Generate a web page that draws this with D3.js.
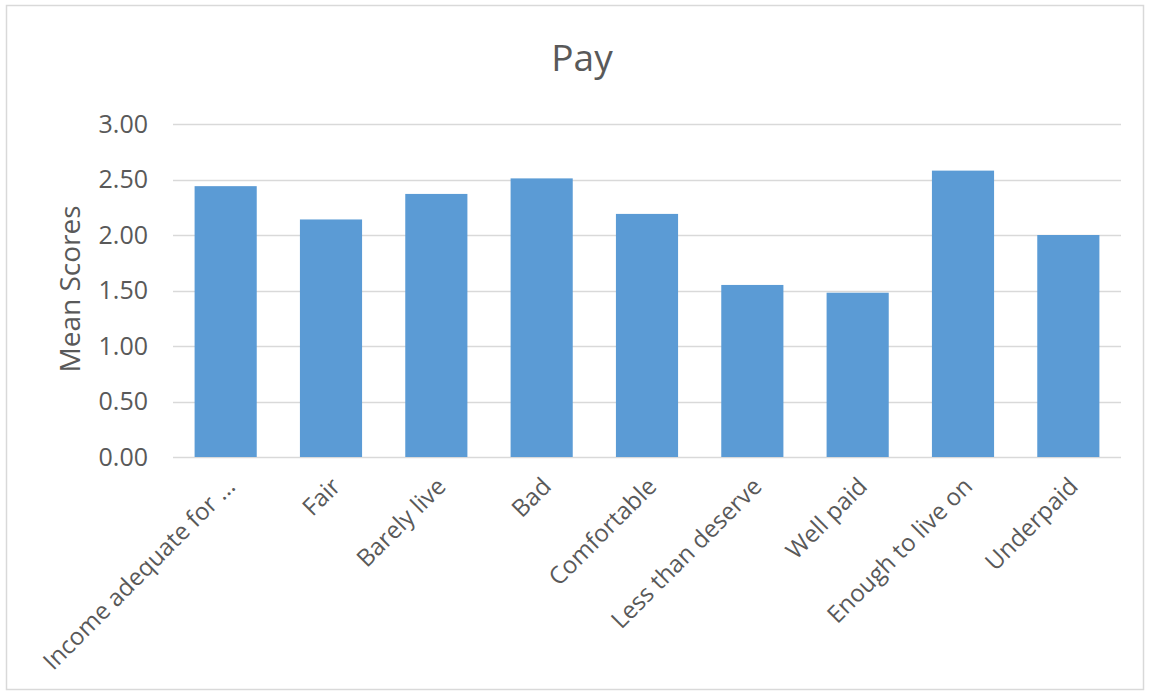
<!DOCTYPE html>
<html>
<head>
    <meta charset="utf-8" />
    <title>Pay</title>
    <style>
        body { margin: 0; background: #fff; }
        text { font-family: "Open Sans", sans-serif; fill: #595959; }
    </style>
</head>
<body>
    <div id="chart"></div>
    <script src="https://cdn.jsdelivr.net/npm/d3@7"></script>
    <script>
        // data
        var categories = ["Income adequate for ...", "Fair", "Barely live", "Bad", "Comfortable",
            "Less than deserve", "Well paid", "Enough to live on", "Underpaid"];
        var values = [2.44, 2.14, 2.37, 2.51, 2.19, 1.55, 1.48, 2.58, 2.00];
        var yTicks = [0, 0.5, 1, 1.5, 2, 2.5, 3];

        var width = 1151, height = 693;
        var margin = { top: 124, right: 30, bottom: 236, left: 173 };

        var svg = d3.select("#chart").append("svg")
            .attr("width", width)
            .attr("height", height);

        // outer border
        svg.append("rect")
            .attr("x", 6.5).attr("y", 5.5)
            .attr("width", 1137).attr("height", 684)
            .attr("fill", "none")
            .attr("stroke", "#d9d9d9")
            .attr("stroke-width", 1.5);

        var x = d3.scaleBand()
            .domain(categories)
            .range([margin.left, width - margin.right])
            .paddingInner(0.41)
            .paddingOuter(0.205);

        var y = d3.scaleLinear()
            .domain([0, 3])
            .range([height - margin.bottom, margin.top]);

        // gridlines
        svg.append("g")
            .selectAll("line")
            .data(yTicks)
            .join("line")
            .attr("x1", margin.left)
            .attr("x2", width - margin.right)
            .attr("y1", d => Math.round(y(d)) + 0.5)
            .attr("y2", d => Math.round(y(d)) + 0.5)
            .attr("stroke", "#d9d9d9")
            .attr("stroke-width", 1.3);

        // y axis labels
        var yAxis = d3.axisLeft(y)
            .tickValues(yTicks)
            .tickFormat(d3.format(".2f"))
            .tickSize(0)
            .tickPadding(25);

        svg.append("g")
            .attr("transform", `translate(${margin.left},0)`)
            .call(yAxis)
            .call(g => g.select(".domain").remove())
            .selectAll("text")
            .attr("font-size", 25)
            .attr("font-family", "Open Sans, sans-serif")
            .attr("fill", "#595959");

        // bars
        svg.append("g")
            .selectAll("rect")
            .data(values)
            .join("rect")
            .attr("x", (d, i) => x(categories[i]))
            .attr("y", d => y(d))
            .attr("width", x.bandwidth())
            .attr("height", d => y(0) - y(d))
            .attr("fill", "#5b9bd5");

        // category labels
        var xAxis = d3.axisBottom(x).tickSize(0).tickPadding(0);
        svg.append("g")
            .attr("transform", `translate(0,${y(0)})`)
            .call(xAxis)
            .call(g => g.select(".domain").remove())
            .selectAll("text")
            .attr("font-size", 24)
            .attr("font-family", "Open Sans, sans-serif")
            .attr("fill", "#595959")
            .attr("text-anchor", "end")
            .attr("dy", "0.35em")
            .attr("transform", "translate(5,25) rotate(-45)");

        // title
        svg.append("text")
            .attr("x", 582)
            .attr("y", 71)
            .attr("text-anchor", "middle")
            .attr("font-size", 37)
            .text("Pay");

        // y axis title
        svg.append("text")
            .attr("transform", "translate(80,289) rotate(-90)")
            .attr("text-anchor", "middle")
            .attr("font-size", 28)
            .text("Mean Scores");
    </script>
</body>
</html>
